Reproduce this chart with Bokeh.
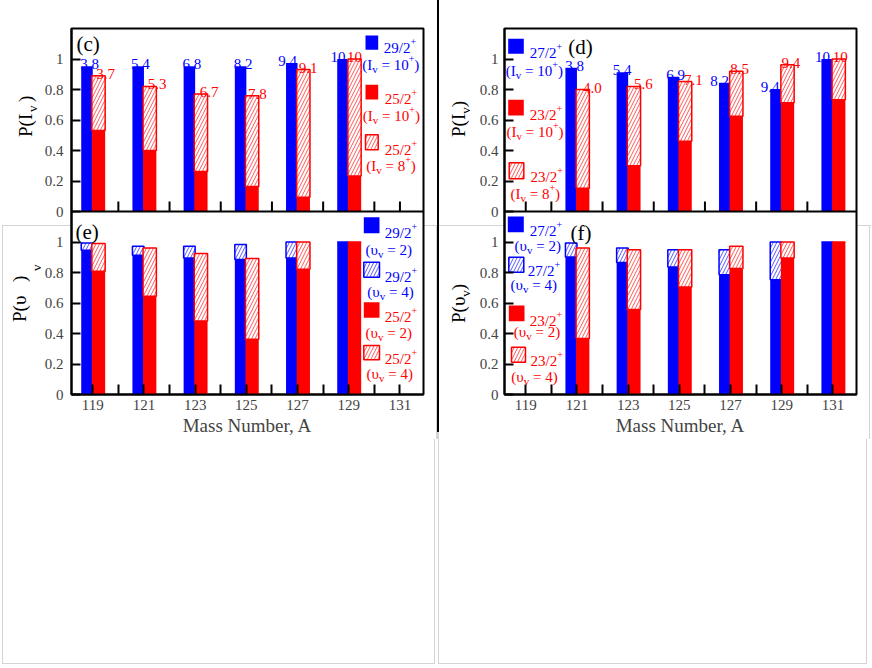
from bokeh.plotting import figure
from bokeh.models import ColumnDataSource, FixedTicker, Div, Range1d, Span
from bokeh.layouts import row, column
from bokeh.embed import file_html
from bokeh.resources import INLINE
from bokeh.core.properties import value

# ---------------- data ----------------
x_ticks = [119, 121, 123, 125, 127, 129, 131]
x_minor = [118, 120, 122, 124, 126, 128, 130, 132]
y_ticks = [0, 0.2, 0.4, 0.6, 0.8, 1.0]
y_tick_labels = ["0", "0.2", "0.4", "0.6", "0.8", "1"]

# panel (c): P(I_v)  (29/2+ blue, 25/2+ red)
mass_c = [119, 121, 123, 125, 127, 129]
c_blue = [0.953, 0.953, 0.953, 0.953, 0.973, 1.0]
c_red_solid = [0.531, 0.400, 0.262, 0.164, 0.094, 0.232]
c_red_total = [0.890, 0.820, 0.770, 0.759, 0.931, 1.0]
c_blue_lab = ["3.8", "5.4", "6.8", "8.2", "9.4", "10"]
c_red_lab = ["3.7", "5.3", "6.7", "7.8", "9.1", "10"]

# panel (d): P(I_v)  (27/2+ blue, 23/2+ red)
mass_d = [121, 123, 125, 127, 129, 131]
d_blue = [0.942, 0.913, 0.883, 0.844, 0.804, 1.0]
d_red_solid = [0.153, 0.300, 0.461, 0.625, 0.713, 0.732]
d_red_total = [0.800, 0.820, 0.852, 0.920, 0.962, 1.0]
d_blue_lab = ["3.8", "5.4", "6.9", "8.2", "9.4", "10"]
d_red_lab = ["4.0", "5.6", "7.1", "8.5", "9.4", "10"]

# panel (e): P(upsilon_v)  (29/2+ blue, 25/2+ red)
mass_e = [119, 121, 123, 125, 127, 129]
e_blue_solid = [0.946, 0.913, 0.895, 0.885, 0.895, 1.0]
e_blue_total = [0.993, 0.972, 0.972, 0.983, 1.0, 1.0]
e_red_solid = [0.808, 0.644, 0.482, 0.362, 0.821, 1.0]
e_red_total = [0.990, 0.961, 0.924, 0.891, 1.0, 1.0]

# panel (f): P(upsilon_v)  (27/2+ blue, 23/2+ red)
mass_f = [121, 123, 125, 127, 129, 131]
f_blue_solid = [0.902, 0.865, 0.836, 0.786, 0.753, 1.0]
f_blue_total = [0.993, 0.961, 0.950, 0.950, 1.0, 1.0]
f_red_solid = [0.367, 0.557, 0.705, 0.826, 0.895, 1.0]
f_red_total = [0.961, 0.950, 0.950, 0.972, 1.0, 1.0]

spins_c = ["29/2", "25/2", "25/2"]
spins_d = ["27/2", "23/2", "23/2"]
spins_e = ["29/2", "29/2", "25/2", "25/2"]
spins_f = ["27/2", "27/2", "23/2", "23/2"]

# ---------------- placement / style (not data) ----------------
c_blue_dx = [-0.12, -0.14, -0.13, -0.13, -0.39, -0.42]
c_red_dx = [0.50, 0.51, 0.55, 0.43, 0.41, 0.22]
d_blue_dx = [-0.09, -0.24, -0.15, -0.43, -0.45, -0.41]
d_red_dx = [0.60, 0.59, 0.55, 0.35, 0.36, 0.29]

FONT = "Liberation Serif"
BLUE = "#0000ff"
RED = "#ff0000"
GRAY = "#d4d4d4"

X0, X1 = 118.17, 131.92
PANEL_H = 1.2            # height of one panel in data units
Y1 = 2 * PANEL_H
FRAME_W, FRAME_H = 352, 366
SX = FRAME_W / (X1 - X0)
SY = FRAME_H / Y1
FIG_H = 439
TITLE_LW, TITLE_RW = 40, 36
FIG_LW, FIG_RW = 397, 396
FIG_LB, FIG_RB = 31, 29
HATCH = dict(hatch_pattern="/", hatch_scale=7, hatch_weight=1, hatch_alpha=0.65)

WID = {".": 0.25, "/": 0.278, "(": 0.333, ")": 0.333, "I": 0.333, " ": 0.25,
       "=": 0.564, "+": 0.564, "v": 0.5, "υ": 0.5, "P": 0.556}


def tw(s):
    return sum(WID.get(ch, 0.5) for ch in s)


class Conv:
    """page pixel -> data coordinates for one column figure"""
    def __init__(self, fl, fb):
        self.fl, self.fb = fl, fb

    def x(self, px):
        return X0 + (px - self.fl) / SX

    def y(self, py):
        return (self.fb - py) / SY


def grad_lines(vx):
    return {"background-image": f"linear-gradient({GRAY},{GRAY}), linear-gradient({GRAY},{GRAY})",
            "background-size": "100% 1px, 1px 100%",
            "background-position": f"0px 225px, {vx}px 225px",
            "background-repeat": "no-repeat"}


def make_fig(width, bl, vline_x, stand):
    p = figure(width=width, height=FIG_H, x_range=Range1d(X0, X1), y_range=Range1d(0, Y1),
               output_backend="svg", toolbar_location=None,
               min_border_left=bl, min_border_right=width - bl - FRAME_W,
               min_border_top=28, min_border_bottom=FIG_H - 28 - FRAME_H,
               styles=grad_lines(vline_x), margin=0)
    p.grid.visible = False
    p.outline_line_color = "black"
    p.outline_line_width = 2
    p.background_fill_color = "white"
    p.border_fill_color = None
    xa, ya = p.xaxis[0], p.yaxis[0]
    xa.ticker = FixedTicker(ticks=x_ticks, minor_ticks=x_minor)
    xa.major_tick_in, xa.major_tick_out = 10, 0
    xa.minor_tick_in, xa.minor_tick_out = 10, 0
    xa.major_tick_line_width = 2
    xa.minor_tick_line_width = 2
    xa.axis_line_width = 2
    xa.major_label_text_font = FONT
    xa.major_label_text_font_size = "15px"
    xa.major_label_standoff = 5
    xa.axis_label = "Mass Number, A"
    xa.axis_label_text_font = FONT
    xa.axis_label_text_font_size = "19px"
    xa.axis_label_text_font_style = "normal"
    xa.axis_label_standoff = 2
    all_y = list(y_ticks) + [PANEL_H + t for t in y_ticks]
    all_lab = list(y_tick_labels) + list(y_tick_labels)
    ya.ticker = FixedTicker(ticks=all_y)
    ya.major_label_overrides = {t: l for t, l in zip(all_y, all_lab)}
    ya.major_tick_in, ya.major_tick_out = 9, 0
    ya.minor_tick_line_color = None
    ya.major_tick_line_width = 2
    ya.axis_line_width = 2
    ya.major_label_text_font = FONT
    ya.major_label_text_font_size = "15px"
    ya.major_label_standoff = stand
    # border between upper and lower panel, with the upper panel's own x ticks
    p.add_layout(Span(location=PANEL_H, dimension="width", line_color="black", line_width=2))
    tk = sorted(x_ticks + x_minor)
    p.segment(x0=tk, y0=[PANEL_H] * len(tk), x1=tk, y1=[PANEL_H + 10 / SY] * len(tk),
              line_color="black", line_width=2)
    return p


def new_store():
    return {}


def rich(store, conv, segs, px, py, color):
    x = px
    for t, k in segs:
        size, dy = {"n": (15, 0.0), "sub": (11, 4.0), "sup": (10, -6.5)}[k]
        lead = len(t) - len(t.lstrip(" "))
        x += lead * WID[" "] * size
        t2 = t.strip(" ")
        d = store.setdefault(size, {"x": [], "y": [], "text": [], "color": []})
        d["x"].append(conv.x(x))
        d["y"].append(conv.y(py + dy))
        d["text"].append(t2)
        d["color"].append(color)
        trail = len(t) - len(t.rstrip(" "))
        x += tw(t2) * size + trail * WID[" "] * size


def finish_text(p, store):
    for size, d in store.items():
        p.text(x="x", y="y", text="text", source=ColumnDataSource(d), text_font=value(FONT),
               text_font_size=value(f"{size}px"), text_color="color", text_align="left",
               text_baseline="alphabetic")


def swatch(p, conv, l, r, t, b, color, hatched):
    src = ColumnDataSource(dict(left=[conv.x(l)], right=[conv.x(r)], top=[conv.y(t)], bottom=[conv.y(b)]))
    if hatched:
        p.quad(left="left", right="right", top="top", bottom="bottom", source=src,
               fill_color="white", line_color=color, line_width=1.5, hatch_color=color, **HATCH)
    else:
        p.quad(left="left", right="right", top="top", bottom="bottom", source=src,
               fill_color=color, line_color=None)


def bars(p, mass, blue_solid, blue_total, red_solid, red_total, base):
    data = dict(xb=[m - 0.225 for m in mass], xr=[m + 0.225 for m in mass],
                bs=[base + v for v in blue_solid], rs=[base + v for v in red_solid],
                rt=[base + v for v in red_total], b0=[base] * len(mass))
    if blue_total is not None:
        data["bt"] = [base + v for v in blue_total]
    src = ColumnDataSource(data)
    p.vbar(x="xb", width=0.45, bottom="b0", top="bs", source=src, fill_color=BLUE, line_color=None)
    if blue_total is not None:
        p.vbar(x="xb", width=0.45, bottom="bs", top="bt", source=src, fill_color="white",
               line_color=BLUE, line_width=1.5, hatch_color=BLUE, **HATCH)
    p.vbar(x="xr", width=0.52, bottom="rs", top="rt", source=src, fill_color="white",
           line_color=RED, line_width=1.5, hatch_color=RED, **HATCH)
    p.vbar(x="xr", width=0.52, bottom="b0", top="rs", source=src, fill_color=RED, line_color=None)


def value_labels(p, mass, tops, labs, dxs, color, base):
    src = ColumnDataSource(dict(x=[m + d for m, d in zip(mass, dxs)],
                                y=[base + t + 2.0 / SY for t in tops], text=labs))
    p.text(x="x", y="y", text="text", source=src, text_font=value(FONT),
           text_font_size=value("15px"), text_color=color, text_align="center",
           text_baseline="alphabetic")


def panel_letter(p, conv, s, px, py):
    src = ColumnDataSource(dict(x=[conv.x(px)], y=[conv.y(py)], text=[s]))
    p.text(x="x", y="y", text="text", source=src, text_font=value(FONT),
           text_font_size=value("21px"), text_color="black", text_align="left",
           text_baseline="alphabetic")


def sup_seq(s):
    return [(s, "n"), ("+", "sup")]


def iv_seq(n):
    return [("(I", "n"), ("v", "sub"), (" = " + n, "n"), ("+", "sup"), (")", "n")]


def uv_seq(n):
    return [("(υ", "n"), ("v", "sub"), (" = " + n + ")", "n")]


def rot_span(text, size, bx, by, x_origin):
    left = bx - x_origin - 0.8375 * size
    return (f'<span style="position:absolute;left:{left:.1f}px;top:{by:.1f}px;z-index:5;'
            f"font-family:'{FONT}';font-size:{size}px;line-height:{size}px;white-space:nowrap;"
            f'transform:rotate(-90deg);transform-origin:0 0;color:black;">{text}</span>')


SUB_V = '<span style="font-size:13px;position:relative;top:5px;">v</span>'


def title_div(width, parts, x_origin, extra):
    inner = "".join(rot_span(t, s, bx, by, x_origin) for t, s, bx, by in parts)
    html = (f'<div style="position:relative;width:{width}px;height:{FIG_H}px;overflow:visible;">'
            f'{extra}{inner}</div>')
    return Div(text=html, width=width, height=FIG_H, margin=0,
               styles={"overflow": "visible", "z-index": "5", "position": "relative"})


# ---------------- left column: (c) over (e) ----------------
pl = make_fig(FIG_LW, FIG_LB, FIG_LW - 1, 8)
cl = Conv(TITLE_LW + FIG_LB, 28 + FRAME_H)
bars(pl, mass_c, c_blue, None, c_red_solid, c_red_total, PANEL_H)
value_labels(pl, mass_c, c_blue, c_blue_lab, c_blue_dx, BLUE, PANEL_H)
value_labels(pl, mass_c, c_red_total, c_red_lab, c_red_dx, RED, PANEL_H)
bars(pl, mass_e, e_blue_solid, e_blue_total, e_red_solid, e_red_total, 0)
st = new_store()
swatch(pl, cl, 365, 377.7, 35, 49.3, BLUE, False)
rich(st, cl, sup_seq(spins_c[0]), 383.3, 47.7, BLUE)
rich(st, cl, iv_seq("10"), 361.7, 64.3, BLUE)
swatch(pl, cl, 365, 377.7, 84.3, 99, RED, False)
rich(st, cl, sup_seq(spins_c[1]), 384.3, 98.3, RED)
rich(st, cl, iv_seq("10"), 362.3, 115, RED)
swatch(pl, cl, 365, 377.7, 134.3, 149.3, RED, True)
rich(st, cl, sup_seq(spins_c[2]), 384.3, 149, RED)
rich(st, cl, iv_seq("8"), 365.7, 165, RED)
swatch(pl, cl, 363.3, 379, 216.7, 232.7, BLUE, False)
rich(st, cl, sup_seq(spins_e[0]), 384.3, 232, BLUE)
rich(st, cl, uv_seq("2"), 365, 249, BLUE)
swatch(pl, cl, 363.3, 379, 261.7, 276.7, BLUE, True)
rich(st, cl, sup_seq(spins_e[1]), 384.3, 276, BLUE)
rich(st, cl, uv_seq("4"), 366.7, 291.7, BLUE)
swatch(pl, cl, 363.3, 379, 301.7, 317.3, RED, False)
rich(st, cl, sup_seq(spins_e[2]), 384.3, 316.7, RED)
rich(st, cl, uv_seq("2"), 365, 332.3, RED)
swatch(pl, cl, 363.3, 379, 345, 359.3, RED, True)
rich(st, cl, sup_seq(spins_e[3]), 384.3, 358.3, RED)
rich(st, cl, uv_seq("4"), 366, 373.3, RED)
finish_text(pl, st)
panel_letter(pl, cl, "(c)", 76, 43)
panel_letter(pl, cl, "(e)", 75, 231)

# ---------------- right column: (d) over (f) ----------------
R0 = TITLE_LW + FIG_LW + 2 + TITLE_RW
pr = make_fig(FIG_RW, FIG_RB, 869 - R0, 6)
cr = Conv(R0 + FIG_RB, 28 + FRAME_H)
bars(pr, mass_d, d_blue, None, d_red_solid, d_red_total, PANEL_H)
value_labels(pr, mass_d, d_blue, d_blue_lab, d_blue_dx, BLUE, PANEL_H)
value_labels(pr, mass_d, d_red_total, d_red_lab, d_red_dx, RED, PANEL_H)
bars(pr, mass_f, f_blue_solid, f_blue_total, f_red_solid, f_red_total, 0)
st = new_store()
swatch(pr, cr, 507.7, 523.3, 38.3, 53.3, BLUE, False)
rich(st, cr, sup_seq(spins_d[0]), 529.3, 52.7, BLUE)
rich(st, cr, iv_seq("10"), 505.3, 70.7, BLUE)
swatch(pr, cr, 507.7, 523.3, 99.3, 115, RED, False)
rich(st, cr, sup_seq(spins_d[1]), 529.3, 114.3, RED)
rich(st, cr, iv_seq("10"), 506, 131.7, RED)
swatch(pr, cr, 508.7, 523.3, 162.3, 178.3, RED, True)
rich(st, cr, sup_seq(spins_d[2]), 530, 176.7, RED)
rich(st, cr, iv_seq("8"), 510, 193.3, RED)
swatch(pr, cr, 507.3, 523.3, 216, 231.7, BLUE, False)
rich(st, cr, sup_seq(spins_f[0]), 529.3, 230.7, BLUE)
rich(st, cr, uv_seq("2"), 514, 245, BLUE)
swatch(pr, cr, 508.3, 523.3, 256.7, 271.7, BLUE, True)
rich(st, cr, sup_seq(spins_f[1]), 527.3, 270.7, BLUE)
rich(st, cr, uv_seq("4"), 510, 284, BLUE)
swatch(pr, cr, 508.3, 524, 305, 320.7, RED, False)
rich(st, cr, sup_seq(spins_f[2]), 529.3, 320, RED)
rich(st, cr, uv_seq("2"), 513.3, 331.7, RED)
swatch(pr, cr, 511, 525, 346.7, 361.7, RED, True)
rich(st, cr, sup_seq(spins_f[3]), 530, 360.7, RED)
rich(st, cr, uv_seq("4"), 510.7, 376.7, RED)
finish_text(pr, st)
panel_letter(pr, cr, "(d)", 567.7, 46)
panel_letter(pr, cr, "(f)", 570, 232)

# ---------------- y-axis titles (rotated HTML text, all placed from the left title box) ----------------
gray_l = (f'<div style="position:absolute;left:2px;top:225px;width:1px;height:{FIG_H - 225}px;background:{GRAY};"></div>'
          f'<div style="position:absolute;left:2px;top:225px;width:{TITLE_LW - 2}px;height:1px;background:{GRAY};"></div>')
gray_r = f'<div style="position:absolute;left:0px;top:225px;width:{TITLE_RW}px;height:1px;background:{GRAY};"></div>'
tl = title_div(TITLE_LW, [("P(I", 19, 32, 137), ("v", 13, 37, 112), (")", 19, 32, 102),
                          ("P(υ", 19, 25.5, 321.7), (")", 19, 25.5, 281.7), ("v", 13, 41, 271),
                          ("P(I" + SUB_V + ")", 19, 465, 137),
                          ("P(υ" + SUB_V + ")", 19, 465, 323.3)],
               0, gray_l)
tr = title_div(TITLE_RW, [], TITLE_LW + FIG_LW + 2, gray_r)

divider = Div(text="", width=2, height=FIG_H, margin=0,
              styles={"background": f"linear-gradient(to bottom, #000 0px, #000 432px, {GRAY} 432px, {GRAY} 100%)"})

BOT_H = 228
box_l = Div(text=(f'<div style="position:relative;width:437px;height:{BOT_H}px;">'
                  f'<div style="position:absolute;left:2px;top:0px;width:433px;height:225px;'
                  f'border:1px solid {GRAY};border-top:none;"></div></div>'), width=437, height=BOT_H, margin=0)
box_r = Div(text=(f'<div style="position:relative;width:434px;height:{BOT_H}px;">'
                  f'<div style="position:absolute;left:1px;top:0px;width:429px;height:225px;'
                  f'border:1px solid {GRAY};border-top:none;"></div></div>'), width=434, height=BOT_H, margin=0)

layout = column(row(tl, pl, divider, tr, pr), row(box_l, box_r))

open("out.html", "w").write(file_html(layout, INLINE))
